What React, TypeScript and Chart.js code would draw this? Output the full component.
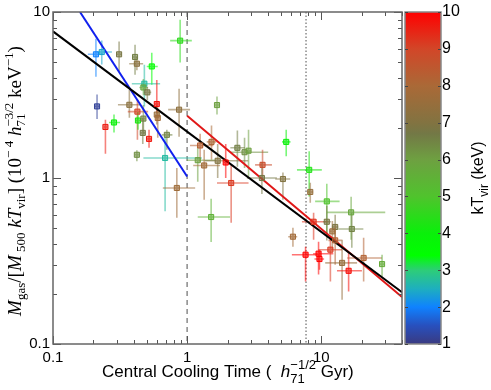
import React, { useEffect, useRef } from 'react';
import { Chart, registerables } from 'chart.js';
Chart.register(...registerables);

// ---- data ----
const coolTime = [0.209, 0.231, 0.311, 0.409, 0.422, 0.545, 0.887, 0.48, 0.472, 0.505, 0.213, 0.594, 0.371, 0.426, 0.871, 0.594, 0.604, 0.246, 0.285, 0.43, 0.472, 0.467, 0.52, 0.706, 0.422, 0.685, 0.838, 1.51, 2.13, 1.67, 1.52, 1.25, 1.2, 1.69, 1.34, 1.94, 2.37, 2.68, 2.87, 3.65, 3.61, 5.18, 5.48, 8.13, 8.28, 11.0, 8.77, 11.0, 16.7, 12.7, 12.1, 16.9, 6.15, 12.7, 7.64, 9.55, 9.7, 11.7, 14.3, 16.0, 20.7, 28.4];
const coolTimeLo = [0.182, 0.213, 0.298, 0.39, 0.37, 0.5, 0.747, 0.387, 0.44, 0.475, 0.205, 0.575, 0.305, 0.361, 0.722, 0.58, 0.59, 0.24, 0.262, 0.41, 0.455, 0.45, 0.505, 0.647, 0.41, 0.472, 0.659, 1.2, 1.67, 1.62, 1.4, 1.05, 0.995, 1.36, 1.11, 1.88, 2.1, 2.09, 2.75, 3.21, 2.79, 4.54, 5.1, 6.59, 7.9, 9.0, 7.18, 10.3, 11.0, 12.0, 11.5, 13.4, 5.67, 11.3, 6.04, 8.7, 8.9, 9.5, 10.7, 13.1, 15.6, 27.5];
const coolTimeHi = [0.236, 0.275, 0.325, 0.43, 0.47, 0.604, 1.084, 0.629, 0.51, 0.54, 0.222, 0.61, 0.446, 0.512, 1.052, 0.61, 0.62, 0.252, 0.316, 0.45, 0.49, 0.485, 0.54, 0.777, 0.435, 1.288, 1.148, 2.09, 2.87, 1.72, 1.65, 1.57, 1.62, 2.85, 1.76, 2.0, 2.7, 4.02, 3.0, 4.29, 4.67, 5.87, 5.9, 10.1, 8.7, 13.7, 11.3, 11.8, 30.0, 13.4, 12.7, 20.6, 6.62, 14.2, 9.55, 12.3, 10.5, 14.3, 18.5, 20.1, 28.4, 29.3];
const massRatio = [5.56, 5.74, 5.56, 5.36, 4.88, 4.7, 6.72, 3.7, 3.51, 3.28, 2.7, 2.79, 2.76, 2.51, 2.58, 2.41, 2.3, 2.03, 2.16, 2.22, 2.28, 1.87, 1.72, 1.82, 1.38, 1.32, 0.871, 0.582, 0.933, 2.75, 1.65, 1.57, 1.28, 1.27, 1.19, 1.24, 1.52, 1.43, 1.46, 1.2, 1.0, 0.986, 1.65, 1.12, 0.824, 0.723, 0.545, 0.545, 0.621, 0.507, 0.477, 0.493, 0.443, 0.421, 0.345, 0.35, 0.325, 0.37, 0.308, 0.276, 0.33, 0.303];
const massRatioLo = [4.07, 4.82, 4.39, 4.19, 4.45, 3.65, 4.97, 2.7, 3.15, 2.95, 2.27, 2.45, 2.31, 1.7, 1.77, 2.1, 1.75, 1.4, 1.88, 1.95, 1.85, 1.6, 1.52, 1.48, 1.26, 0.63, 0.577, 0.411, 0.538, 2.41, 1.29, 1.25, 0.95, 1.0, 0.74, 1.0, 1.17, 1.15, 1.02, 0.977, 0.8, 0.74, 1.35, 0.775, 0.71, 0.45, 0.425, 0.42, 0.425, 0.42, 0.37, 0.38, 0.386, 0.3, 0.238, 0.262, 0.28, 0.238, 0.185, 0.207, 0.238, 0.255];
const massRatioHi = [6.9, 6.74, 6.65, 6.35, 5.35, 5.69, 8.99, 4.81, 3.95, 3.55, 3.18, 3.9, 3.4, 2.96, 3.45, 2.75, 2.65, 2.24, 2.41, 2.5, 2.75, 2.3, 1.95, 1.95, 1.47, 1.78, 1.15, 0.75, 1.21, 3.1, 2.07, 1.85, 1.55, 1.6, 1.48, 1.6, 1.93, 1.75, 1.95, 1.48, 1.25, 1.08, 1.95, 1.45, 0.937, 0.924, 0.618, 0.68, 0.771, 0.6, 0.55, 0.62, 0.502, 0.52, 0.385, 0.413, 0.37, 0.437, 0.425, 0.355, 0.437, 0.345];
const kTvir = [2.0, 2.4, 6.8, 6.6, 7.2, 3.5, 4.5, 2.7, 5.8, 6.8, 1.2, 9.8, 7.2, 9.0, 7.3, 7.5, 7.8, 9.6, 4.0, 4.2, 6.5, 6.7, 9.7, 6.5, 6.3, 2.7, 7.7, 5.5, 9.2, 6.0, 8.0, 8.3, 6.0, 7.0, 7.8, 10, 6.6, 6.3, 6.0, 8.8, 6.7, 7.0, 4.0, 4.3, 7.5, 5.0, 9.3, 6.8, 5.8, 6.9, 7.6, 6.5, 7.8, 8.2, 10, 10, 10, 9.2, 7.5, 9.8, 8.2, 5.7];

const fitAll = [{ x: 0.1, y: 7.64 }, { x: 40, y: 0.205 }];
const fitCool = [{ x: 0.159, y: 10 }, { x: 1.0, y: 1.02 }];
const fitWarm = [{ x: 1.0, y: 2.37 }, { x: 40, y: 0.192 }];
const dashedAt = 1;
const dottedAt = 7.7;

const xTickLabels = ['0.1', '1', '10'];
const yTickLabels = ['0.1', '1', '10'];
const cbTickLabels = ['1', '2', '3', '4', '5', '6', '7', '8', '9', '10'];

const cmapStops: [number, number[]][] = [
  [1, [58, 58, 128]], [1.5, [40, 80, 190]], [2, [15, 130, 255]], [2.5, [30, 175, 190]],
  [3, [45, 205, 120]], [3.4, [0, 255, 0]], [4, [10, 240, 10]], [5, [80, 195, 45]],
  [6, [110, 160, 65]], [6.7, [115, 120, 70]], [7, [130, 115, 65]], [8, [170, 105, 55]],
  [9, [210, 70, 40]], [10, [255, 0, 0]],
];
function kTColor(t: number, a = 1) {
  let c = cmapStops[cmapStops.length - 1][1];
  for (let i = 0; i < cmapStops.length - 1; i++) {
    const [t0, c0] = cmapStops[i];
    const [t1, c1] = cmapStops[i + 1];
    if (t <= t1) {
      const f = Math.max(0, Math.min(1, (t - t0) / (t1 - t0)));
      c = c0.map((v, k) => Math.round(v + (c1[k] - v) * f));
      break;
    }
  }
  return `rgba(${c[0]},${c[1]},${c[2]},${a})`;
}

type Seg = { t: string; f: string; dy: number } | { sub: string; sup: string; f: string; dSub: number; dSup: number };
function segWidth(ctx: CanvasRenderingContext2D, s: Seg) {
  ctx.font = s.f;
  if ('t' in s) return ctx.measureText(s.t).width;
  return Math.max(ctx.measureText(s.sub).width, ctx.measureText(s.sup).width);
}
function drawRich(ctx: CanvasRenderingContext2D, segs: Seg[], x0: number, y0: number, align: 'left' | 'center') {
  const total = segs.reduce((a, s) => a + segWidth(ctx, s), 0);
  let x = align === 'center' ? x0 - total / 2 : x0;
  ctx.textAlign = 'left';
  ctx.textBaseline = 'alphabetic';
  for (const s of segs) {
    const w = segWidth(ctx, s);
    ctx.font = s.f;
    if ('t' in s) ctx.fillText(s.t, x, y0 + s.dy);
    else {
      ctx.fillText(s.sub, x, y0 + s.dSub);
      ctx.fillText(s.sup, x, y0 + s.dSup);
    }
    x += w;
  }
  return total;
}

const SERIF = '"Liberation Serif", "DejaVu Serif", serif';
const SANS = '"Liberation Sans", Arial, sans-serif';

const yTitle: Seg[] = [
  { t: 'M', f: `italic 19px ${SERIF}`, dy: 0 },
  { t: 'gas', f: `13px ${SERIF}`, dy: 4 },
  { t: '/[', f: `19px ${SERIF}`, dy: 0 },
  { t: 'M', f: `italic 19px ${SERIF}`, dy: 0 },
  { t: ' 500', f: `13px ${SERIF}`, dy: 4 },
  { t: ' kT', f: `italic 19px ${SERIF}`, dy: 0 },
  { t: 'vir', f: `13px ${SERIF}`, dy: 4 },
  { t: '] (10', f: `19px ${SERIF}`, dy: 0 },
  { t: '\u2212 4', f: `13px ${SERIF}`, dy: -8 },
  { t: ' h', f: `italic 19px ${SERIF}`, dy: 0 },
  { sub: '71', sup: '\u22123/2', f: `13px ${SERIF}`, dSub: 4, dSup: -8 },
  { t: ' keV', f: `19px ${SERIF}`, dy: 0 },
  { t: '\u22121', f: `13px ${SERIF}`, dy: -8 },
  { t: ')', f: `19px ${SERIF}`, dy: 0 },
];
const xTitle: Seg[] = [
  { t: 'Central Cooling Time (  ', f: `17px ${SANS}`, dy: 0 },
  { t: 'h', f: `italic 17px ${SANS}`, dy: 0 },
  { sub: '71', sup: '\u22121/2', f: `13px ${SANS}`, dSub: 6, dSup: -8 },
  { t: ' Gyr)', f: `17px ${SANS}`, dy: 0 },
];
const cbTitle: Seg[] = [
  { t: 'kT', f: `16px ${SANS}`, dy: 0 },
  { t: 'vir', f: `12px ${SANS}`, dy: 5 },
  { t: ' (keV)', f: `16px ${SANS}`, dy: 0 },
];

const decorPlugin = {
  id: 'decor',
  beforeDatasetsDraw(chart: any) {
    const { ctx, chartArea: ca, scales } = chart;
    const xs = scales.x, ys = scales.y;
    ctx.save();
    ctx.beginPath();
    ctx.rect(ca.left, ca.top, ca.right - ca.left, ca.bottom - ca.top);
    ctx.clip();
    ctx.strokeStyle = '#8a8a8a';
    ctx.lineWidth = 1.5;
    ctx.setLineDash([5, 4]);
    let px = xs.getPixelForValue(dashedAt);
    ctx.beginPath(); ctx.moveTo(px, ca.top); ctx.lineTo(px, ca.bottom); ctx.stroke();
    ctx.setLineDash([1.5, 2]);
    px = xs.getPixelForValue(dottedAt);
    ctx.beginPath(); ctx.moveTo(px, ca.top); ctx.lineTo(px, ca.bottom); ctx.stroke();
    ctx.setLineDash([]);
    ctx.lineWidth = 1.6;
    for (let i = 0; i < coolTime.length; i++) {
      ctx.strokeStyle = kTColor(kTvir[i], 0.55);
      const cx = xs.getPixelForValue(coolTime[i]);
      const cy = ys.getPixelForValue(massRatio[i]);
      ctx.beginPath();
      ctx.moveTo(xs.getPixelForValue(coolTimeLo[i]), cy);
      ctx.lineTo(xs.getPixelForValue(coolTimeHi[i]), cy);
      ctx.moveTo(cx, ys.getPixelForValue(massRatioLo[i]));
      ctx.lineTo(cx, ys.getPixelForValue(massRatioHi[i]));
      ctx.stroke();
    }
    ctx.restore();
  },
  afterDraw(chart: any) {
    const { ctx, chartArea: ca, scales } = chart;
    const xs = scales.x, ys = scales.y, cb = scales.cb;
    ctx.save();
    ctx.strokeStyle = '#555';
    ctx.lineWidth = 1;
    ctx.beginPath();
    for (let d = -1; d <= 1; d++) {
      for (let m = 1; m <= 9; m++) {
        const v = m * Math.pow(10, d);
        const len = m === 1 ? 8 : 4;
        if (v >= 0.1 && v <= 40) {
          const p = Math.round(xs.getPixelForValue(v)) + 0.5;
          ctx.moveTo(p, ca.bottom); ctx.lineTo(p, ca.bottom - len);
          ctx.moveTo(p, ca.top); ctx.lineTo(p, ca.top + len);
        }
        if (v >= 0.1 && v <= 10) {
          const p = Math.round(ys.getPixelForValue(v)) + 0.5;
          ctx.moveTo(ca.left, p); ctx.lineTo(ca.left + len, p);
          ctx.moveTo(ca.right, p); ctx.lineTo(ca.right - len, p);
        }
      }
    }
    ctx.stroke();
    ctx.strokeStyle = '#666';
    ctx.lineWidth = 1.5;
    ctx.strokeRect(ca.left, ca.top, ca.right - ca.left, ca.bottom - ca.top);
    // colour bar
    const bx0 = ca.right + 3, bx1 = ca.right + 39;
    const p1 = cb.getPixelForValue(1), p10 = cb.getPixelForValue(10);
    const g = ctx.createLinearGradient(0, p1, 0, p10);
    for (const [t, c] of cmapStops) g.addColorStop((t - 1) / 9, `rgb(${c[0]},${c[1]},${c[2]})`);
    ctx.fillStyle = g;
    ctx.fillRect(bx0, p10, bx1 - bx0, p1 - p10);
    ctx.strokeStyle = '#888';
    ctx.lineWidth = 1.5;
    ctx.strokeRect(bx0, p10, bx1 - bx0, p1 - p10);
    ctx.strokeStyle = '#444';
    ctx.lineWidth = 1;
    ctx.beginPath();
    for (const l of cbTickLabels) {
      const p = Math.round(cb.getPixelForValue(Number(l))) + 0.5;
      ctx.moveTo(bx0, p); ctx.lineTo(bx0 + 3, p);
      ctx.moveTo(bx1, p); ctx.lineTo(bx1 - 3, p);
    }
    ctx.stroke();
    // titles
    ctx.fillStyle = '#000';
    ctx.save();
    ctx.translate(21, (ca.top + ca.bottom) / 2 + 3);
    ctx.rotate(-Math.PI / 2);
    drawRich(ctx, yTitle, 0, 0, 'center');
    ctx.restore();
    drawRich(ctx, xTitle, 102, 377, 'left');
    ctx.save();
    ctx.translate(483, (ca.top + ca.bottom) / 2);
    ctx.rotate(-Math.PI / 2);
    drawRich(ctx, cbTitle, 0, 0, 'center');
    ctx.restore();
    ctx.restore();
  },
};

export default function App() {
  const ref = useRef<HTMLCanvasElement | null>(null);
  useEffect(() => {
    if (!ref.current) return;
    const pts = coolTime.map((x, i) => ({ x, y: massRatio[i] }));
    const chart = new Chart(ref.current, {
      type: 'scatter',
      data: {
        datasets: [
          {
            data: pts,
            pointStyle: 'rect',
            pointRadius: 3.6,
            pointBackgroundColor: kTvir.map((t) => kTColor(t, 0.6)),
            pointBorderColor: kTvir.map((t) => kTColor(t, 1)),
            pointBorderWidth: 1,
          } as any,
          { data: fitAll, showLine: true, borderColor: '#000', borderWidth: 2, pointRadius: 0 } as any,
          { data: fitWarm, showLine: true, borderColor: '#e01818', borderWidth: 2, pointRadius: 0 } as any,
          { data: fitCool, showLine: true, borderColor: '#1020ee', borderWidth: 2, pointRadius: 0 } as any,
        ],
      },
      options: {
        animation: false,
        responsive: false,
        layout: { padding: { top: 12, left: 0, right: 0, bottom: 0 }, autoPadding: false },
        plugins: { legend: { display: false }, tooltip: { enabled: false } },
        scales: {
          x: {
            type: 'logarithmic',
            min: 0.1,
            max: 40,
            grid: { display: false, drawTicks: false },
            border: { display: false },
            afterBuildTicks: (s: any) => { s.ticks = xTickLabels.map((l) => ({ value: Number(l) })); },
            afterFit: (s: any) => { s.height = 46; s.paddingLeft = 0; s.paddingRight = 0; },
            ticks: {
              autoSkip: false, maxRotation: 0, padding: 5, color: '#000',
              font: { family: SANS, size: 15 },
              callback: (v: any) => { const s = String(v); return xTickLabels.includes(s) ? s : ''; },
            },
          },
          y: {
            type: 'logarithmic',
            min: 0.1,
            max: 10,
            grid: { display: false, drawTicks: false },
            border: { display: false },
            afterBuildTicks: (s: any) => { s.ticks = yTickLabels.map((l) => ({ value: Number(l) })); },
            afterFit: (s: any) => { s.width = 53; s.paddingTop = 0; s.paddingBottom = 0; },
            ticks: {
              autoSkip: false, padding: 3, color: '#000',
              font: { family: SANS, size: 15 },
              callback: (v: any) => { const s = String(v); return yTickLabels.includes(s) ? s : ''; },
            },
          },
          cb: {
            type: 'linear',
            position: 'right',
            display: true,
            min: 1,
            max: 10,
            grid: { display: false, drawTicks: true, tickLength: 40 },
            border: { display: false },
            afterBuildTicks: (s: any) => { s.ticks = cbTickLabels.map((l) => ({ value: Number(l) })); },
            afterFit: (s: any) => { s.width = 89; s.paddingTop = 0; s.paddingBottom = 0; },
            ticks: {
              autoSkip: false, padding: 0, color: '#000',
              font: { family: SANS, size: 16 },
              callback: (v: any) => String(v),
            },
          },
        },
      } as any,
      plugins: [decorPlugin],
    });
    return () => chart.destroy();
  }, []);
  return (
    <div style={{ position: 'fixed', left: 0, top: 0, width: 491, height: 390, background: '#fff' }}>
      <canvas ref={ref} width={491} height={390} style={{ display: 'block' }} />
    </div>
  );
}
